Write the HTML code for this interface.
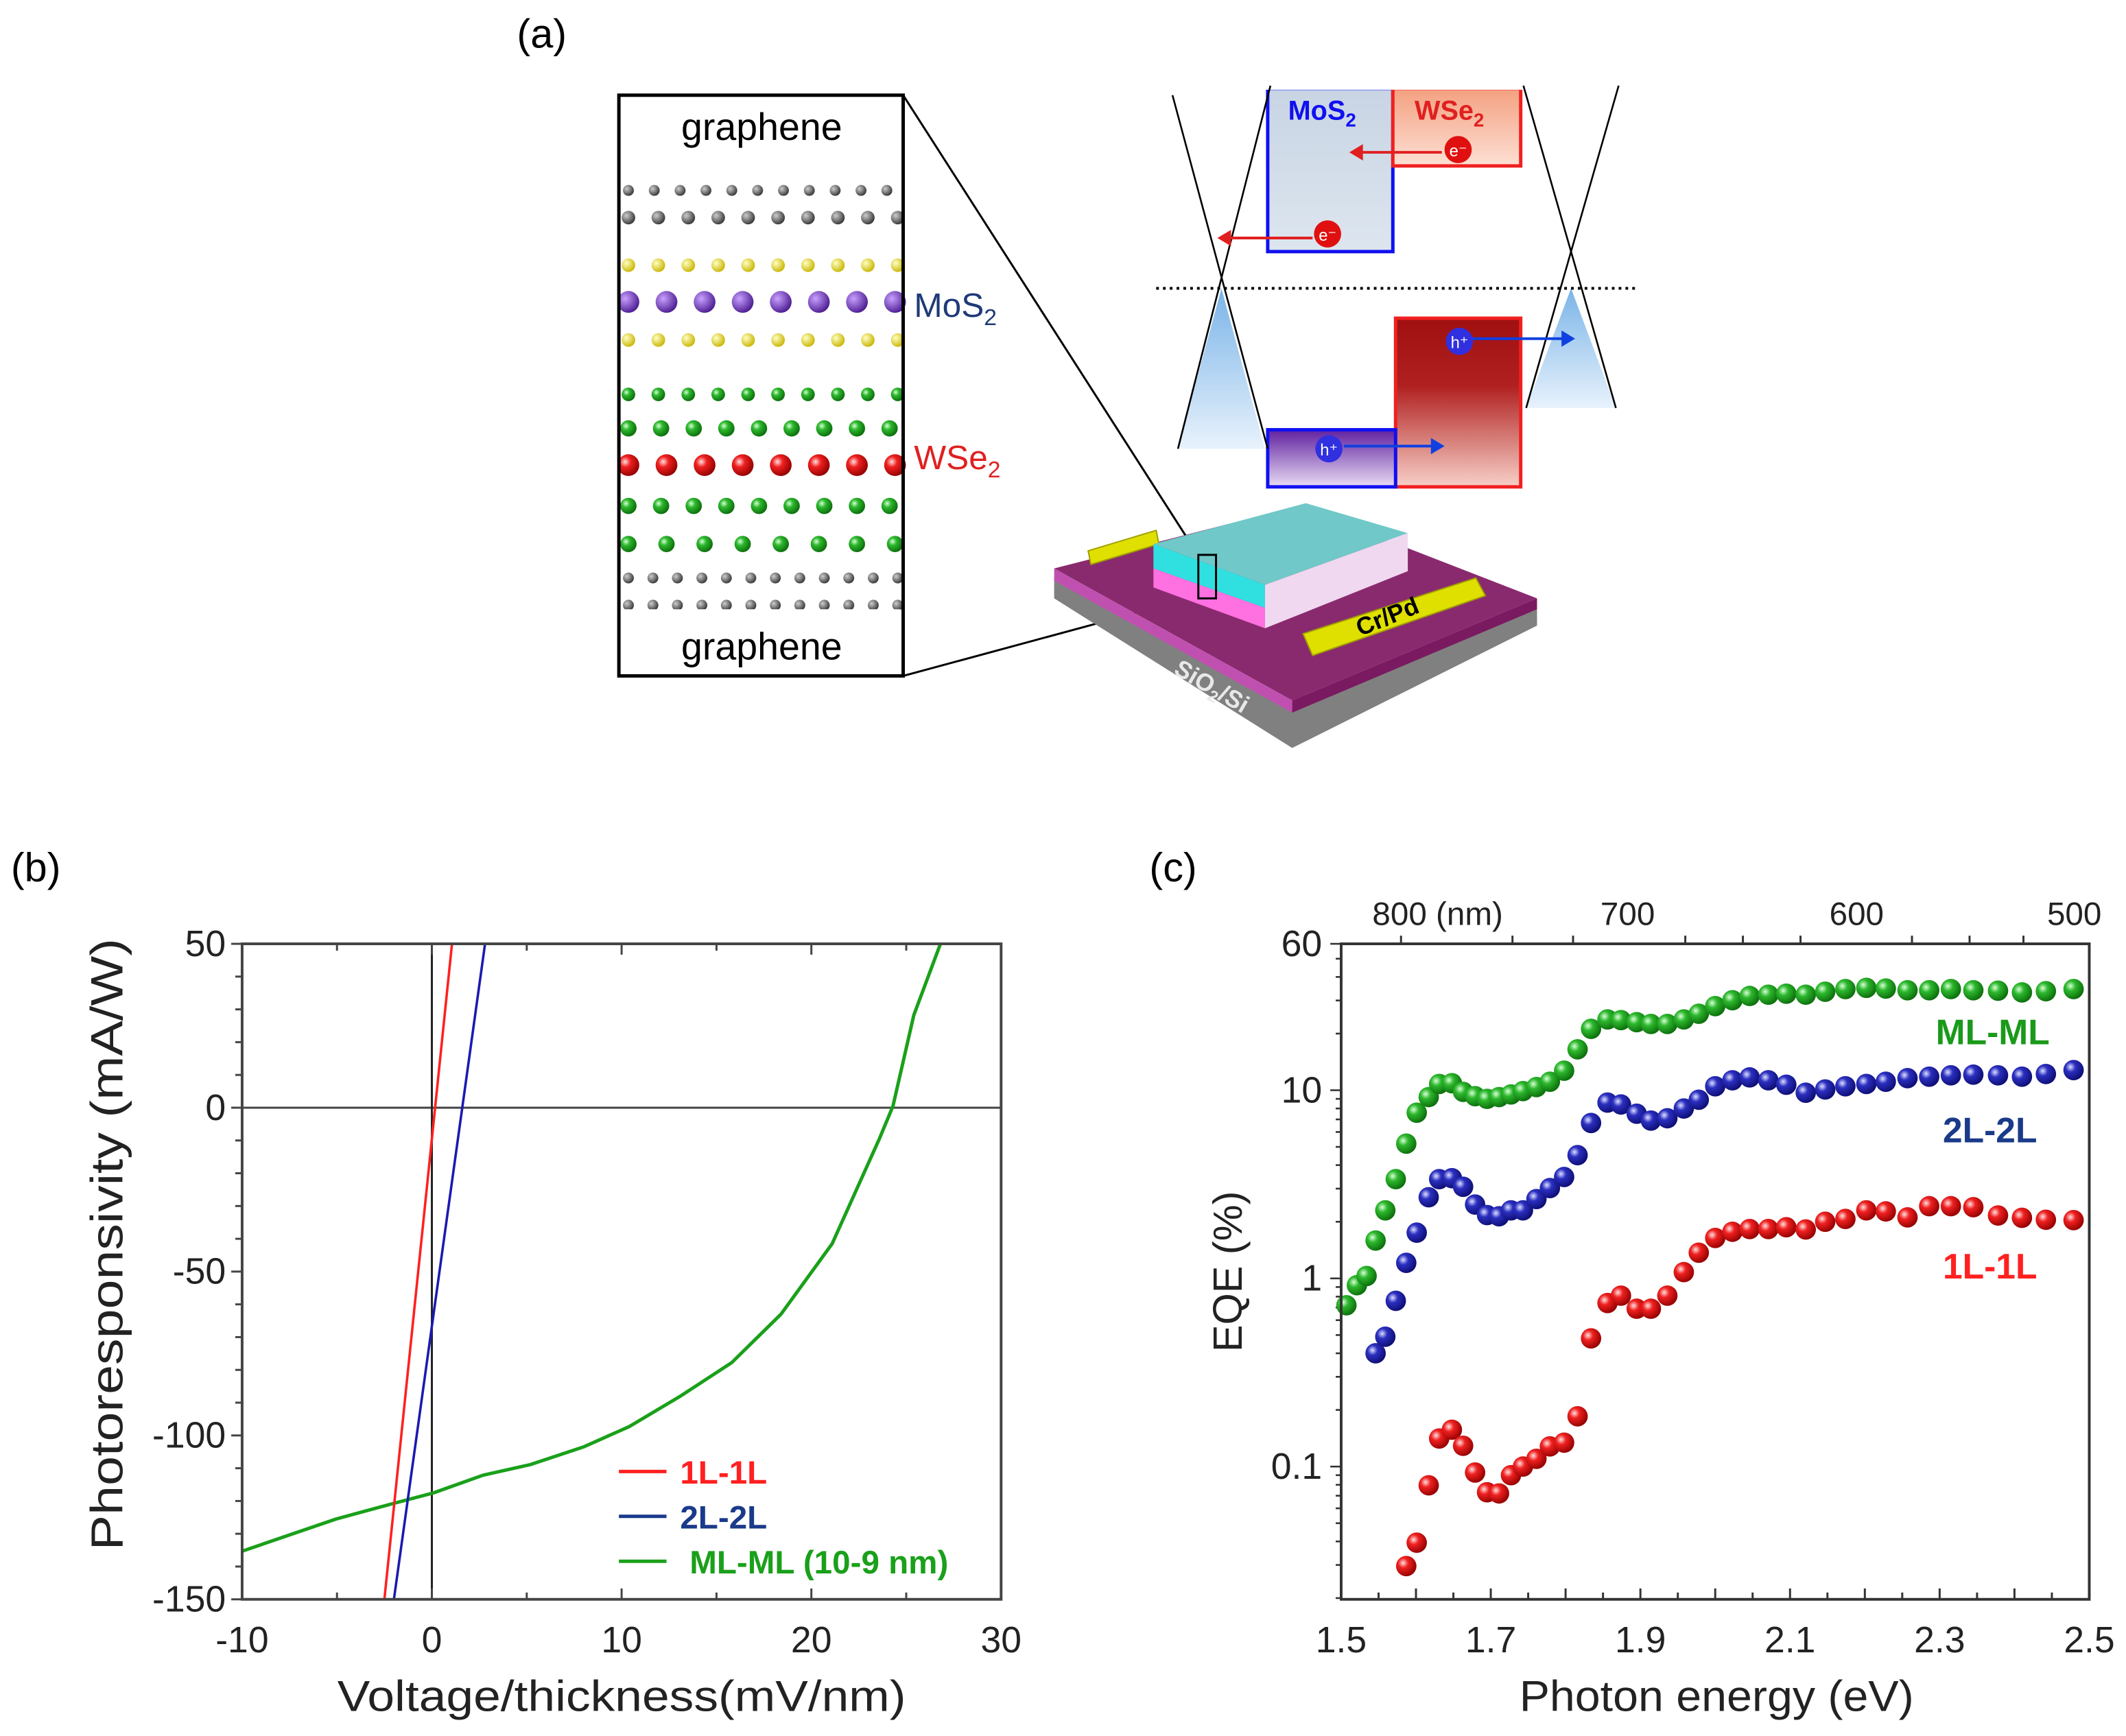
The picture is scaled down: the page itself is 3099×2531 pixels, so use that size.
<!DOCTYPE html>
<html><head><meta charset="utf-8"><style>
html,body{margin:0;padding:0;background:#fff;}
svg{display:block;font-family:"Liberation Sans",sans-serif;}
</style></head><body>
<svg id="fig" xmlns="http://www.w3.org/2000/svg" width="3099" height="2531" viewBox="0 0 1563 1276.5" preserveAspectRatio="none">
<defs>
<radialGradient id="gG" cx="0.35" cy="0.35" r="0.7"><stop offset="0" stop-color="#d8ffd8"/><stop offset="0.35" stop-color="#2db82d"/><stop offset="1" stop-color="#0a6a0a"/></radialGradient>
<radialGradient id="gB" cx="0.35" cy="0.35" r="0.7"><stop offset="0" stop-color="#dde0ff"/><stop offset="0.35" stop-color="#2b2fc0"/><stop offset="1" stop-color="#0c0c70"/></radialGradient>
<radialGradient id="gR" cx="0.35" cy="0.35" r="0.7"><stop offset="0" stop-color="#ffe0e0"/><stop offset="0.35" stop-color="#f02020"/><stop offset="1" stop-color="#900000"/></radialGradient>
<radialGradient id="gK" cx="0.35" cy="0.35" r="0.7"><stop offset="0" stop-color="#ccc"/><stop offset="1" stop-color="#333"/></radialGradient>
<radialGradient id="gY" cx="0.35" cy="0.35" r="0.7"><stop offset="0" stop-color="#ffffc0"/><stop offset="1" stop-color="#c8b400"/></radialGradient>
<radialGradient id="gP" cx="0.35" cy="0.35" r="0.7"><stop offset="0" stop-color="#c9a0ff"/><stop offset="1" stop-color="#4a1a90"/></radialGradient>
<linearGradient id="mosG" x1="0" y1="0" x2="0" y2="1"><stop offset="0" stop-color="#c8d4e4"/><stop offset="1" stop-color="#dde6ef"/></linearGradient>
<linearGradient id="wseG" x1="0" y1="0" x2="0" y2="1"><stop offset="0" stop-color="#f4a080"/><stop offset="1" stop-color="#fde0d4"/></linearGradient>
<linearGradient id="redG" x1="0" y1="0" x2="0" y2="1"><stop offset="0" stop-color="#a01010"/><stop offset="0.4" stop-color="#b02020"/><stop offset="1" stop-color="#f8d0c8"/></linearGradient>
<linearGradient id="purG" x1="0" y1="0" x2="0" y2="1"><stop offset="0" stop-color="#6020a0"/><stop offset="1" stop-color="#e8dcf4"/></linearGradient>
<linearGradient id="coneG" x1="0" y1="0" x2="0" y2="1"><stop offset="0" stop-color="#7ab4e8"/><stop offset="1" stop-color="#e8f2fc"/></linearGradient>
</defs>

<!-- Panel (a) -->
<g>
<text x="380" y="35" font-size="30">(a)</text>
<g id="crystal"></g>
<rect x="455" y="70" width="209" height="427" fill="none" stroke="#000" stroke-width="2.5"/>
<rect x="457" y="72" width="205" height="46" fill="#fff"/>
<rect x="457" y="448" width="205" height="47" fill="#fff"/>
<text x="560" y="103" font-size="28" text-anchor="middle">graphene</text>
<text x="560" y="485" font-size="28" text-anchor="middle">graphene</text>
<text x="672" y="233" font-size="25" fill="#1f3a78">MoS<tspan font-size="17" dy="6">2</tspan></text>
<text x="672" y="345" font-size="25" fill="#e02020">WSe<tspan font-size="17" dy="6">2</tspan></text>
<line x1="664" y1="70" x2="882" y2="410" stroke="#000" stroke-width="1.5"/>
<line x1="664" y1="497" x2="882" y2="438" stroke="#000" stroke-width="1.5"/>

<g>
<polygon points="898,212 866,330 930,330" fill="url(#coneG)"/>
<polygon points="1155,212 1122,300 1188,300" fill="url(#coneG)"/>
<rect x="932" y="65" width="92" height="120" fill="url(#mosG)" stroke="#1010f0" stroke-width="2.5"/>
<rect x="1024" y="65" width="94" height="57" fill="url(#wseG)" stroke="#f02020" stroke-width="2.5"/>
<rect x="1026" y="234" width="92" height="124" fill="url(#redG)" stroke="#f02020" stroke-width="2.5"/>
<rect x="932" y="316" width="94" height="42" fill="url(#purG)" stroke="#1010f0" stroke-width="2.5"/>
<rect x="930" y="58" width="190" height="8" fill="#fff"/>
<line x1="862" y1="70" x2="932" y2="330" stroke="#000" stroke-width="1.3"/>
<line x1="934" y1="63" x2="866" y2="330" stroke="#000" stroke-width="1.3"/>
<line x1="1120" y1="63" x2="1188" y2="300" stroke="#000" stroke-width="1.3"/>
<line x1="1190" y1="63" x2="1122" y2="300" stroke="#000" stroke-width="1.3"/>
<line x1="850" y1="212" x2="1203" y2="212" stroke="#000" stroke-width="2" stroke-dasharray="2,3"/>
<text x="947" y="88" font-size="20" font-weight="bold" fill="#1010f0">MoS<tspan font-size="14" dy="5">2</tspan></text>
<text x="1040" y="88" font-size="20" font-weight="bold" fill="#e02020">WSe<tspan font-size="14" dy="5">2</tspan></text>
<line x1="1060" y1="112" x2="998" y2="112" stroke="#e02020" stroke-width="2"/><polygon points="992,112 1002,106 1002,118" fill="#e02020"/>
<circle cx="1072" cy="110" r="10" fill="#e01010"/><text x="1072" y="115" font-size="12" fill="#fff" text-anchor="middle">e⁻</text>
<line x1="965" y1="175" x2="902" y2="175" stroke="#e02020" stroke-width="2"/><polygon points="895,175 905,169 905,181" fill="#e02020"/>
<circle cx="976" cy="172" r="10" fill="#e01010"/><text x="976" y="177" font-size="12" fill="#fff" text-anchor="middle">e⁻</text>
<line x1="1082" y1="249" x2="1150" y2="249" stroke="#1040e0" stroke-width="2"/><polygon points="1158,249 1148,243 1148,255" fill="#1040e0"/>
<circle cx="1073" cy="251" r="10" fill="#3030e0"/><text x="1073" y="256" font-size="12" fill="#fff" text-anchor="middle">h⁺</text>
<line x1="988" y1="328" x2="1055" y2="328" stroke="#1040e0" stroke-width="2"/><polygon points="1062,328 1052,322 1052,334" fill="#1040e0"/>
<circle cx="977" cy="330" r="10" fill="#3030e0"/><text x="977" y="335" font-size="12" fill="#fff" text-anchor="middle">h⁺</text>
</g>

<g>
<polygon points="775,425 950,520 1130,445 1130,460 950,550 775,440" fill="#808080"/>
<polygon points="775,418 950,515 1130,440 955,372" fill="#8a2a6e"/>
<polygon points="775,418 950,515 950,524 775,427" fill="#c050b0"/>
<polygon points="950,515 1130,440 1130,448 950,524" fill="#7a1a60"/>
<polygon points="800,405 850,390 852,400 802,415" fill="#e0e000" stroke="#a0a000"/>
<polygon points="958,466 1085,425 1092,438 965,482" fill="#e0e000" stroke="#a0a000"/>
<polygon points="848,400 930,430 1035,392 960,370" fill="#70c8c8"/>
<polygon points="848,400 930,430 930,447 848,418" fill="#30e0e0"/>
<polygon points="848,418 930,447 930,462 848,432" fill="#ff70e0"/>
<polygon points="930,430 1035,392 1035,420 930,462" fill="#f0d8f0"/>
<rect x="881" y="408" width="13" height="32" fill="none" stroke="#000" stroke-width="1.5"/>
<text x="1000" y="468" font-size="18" font-weight="bold" transform="rotate(-22 1000 468)">Cr/Pd</text>
<text x="862" y="495" font-size="18" font-weight="bold" fill="#e8e8e8" transform="rotate(30 862 495)">SiO<tspan font-size="12" dy="4">2</tspan><tspan dy="-4">/Si</tspan></text>
</g>
</g>

<!-- Panel (b) -->
<g id="panelB">
<text x="8" y="648" font-size="30">(b)</text>
</g>
<!-- Panel (c) -->
<g id="panelC">
<text x="845" y="648" font-size="30">(c)</text>
</g>
</svg>
<script>
// ---- Panel (b) data ----
const bXTicks = [-10, 0, 10, 20, 30];
const bYTicks = [-150, -100, -50, 0, 50];
const line1LV = [-2.5, 1.06];
const line1LR = [-150, 50];
const line2LV = [-2.0, 2.8];
const line2LR = [-150, 50];
const mlV = [-10, -5.06, -2.0, 0.09, 2.7, 5.2, 8.0, 10.4, 13.1, 15.8, 18.4, 21.1, 23.6, 24.3, 25.4, 26.8];
const mlR = [-135.3, -125.5, -120.7, -117.5, -112.1, -108.9, -103.5, -97.3, -88.0, -77.8, -63.0, -41.5, -9.3, 0.5, 28.2, 50];
const bLegend = ["1L-1L", "2L-2L", "ML-ML (10-9 nm)"];

// ---- Panel (c) data ----
const cXTicks = [1.5, 1.7, 1.9, 2.1, 2.3, 2.5];
const cYTicks = [60, 10, 1, 0.1];
const cYTickLabels = ["60", "10", "1", "0.1"];
const cTopTickLabels = ["800 (nm)", "700", "600", "500"];
const cTopLabelEnergy = [1.629, 1.883, 2.189, 2.48];
const cTopTickEnergy = [1.58, 1.729, 1.81, 1.96, 2.037, 2.114, 2.263, 2.340, 2.412];
const energyML = [1.507,1.521,1.534,1.546,1.559,1.573,1.587,1.601,1.617,1.631,1.648,1.663,1.679,1.695,1.711,1.727,1.743,1.761,1.779,1.798,1.816,1.834,1.856,1.874,1.895,1.914,1.936,1.958,1.978,2.000,2.023,2.046,2.071,2.095,2.121,2.147,2.174,2.202,2.228,2.257,2.286,2.315,2.345,2.378,2.410,2.442,2.479];
const eqeML = [0.72,0.92,1.03,1.59,2.30,3.37,5.2,7.6,9.2,10.8,10.9,9.8,9.3,9.0,9.2,9.5,9.9,10.4,11.1,12.7,16.5,21.2,23.8,23.6,23.0,22.5,22.5,23.8,25.5,28.0,30.1,31.7,32.2,32.6,32.2,33.4,34.5,35.0,34.7,34.0,34.0,34.5,34.0,33.8,33.1,33.6,34.5];
const energy2L = [1.546,1.559,1.573,1.587,1.601,1.617,1.631,1.648,1.663,1.679,1.695,1.711,1.727,1.743,1.761,1.779,1.798,1.816,1.834,1.856,1.874,1.895,1.914,1.936,1.958,1.978,2.000,2.023,2.046,2.071,2.095,2.121,2.147,2.174,2.202,2.228,2.257,2.286,2.315,2.345,2.378,2.410,2.442,2.479];
const eqe2L = [0.40,0.49,0.76,1.21,1.75,2.70,3.37,3.41,3.07,2.47,2.17,2.14,2.30,2.30,2.64,3.02,3.46,4.52,6.7,8.6,8.4,7.5,6.9,7.1,8.0,8.9,10.5,11.3,11.7,11.3,10.7,9.7,10.1,10.5,10.8,11.1,11.6,11.8,12.0,12.1,12.0,11.8,12.2,12.8];
const energy1L = [1.587,1.601,1.617,1.631,1.648,1.663,1.679,1.695,1.711,1.727,1.743,1.761,1.779,1.798,1.816,1.834,1.856,1.874,1.895,1.914,1.936,1.958,1.978,2.000,2.023,2.046,2.071,2.095,2.121,2.147,2.174,2.202,2.228,2.257,2.286,2.315,2.345,2.378,2.410,2.442,2.479];
const eqe1L = [0.0296,0.0394,0.0795,0.141,0.157,0.129,0.093,0.073,0.072,0.090,0.100,0.110,0.128,0.134,0.185,0.48,0.74,0.81,0.69,0.69,0.81,1.08,1.37,1.64,1.77,1.83,1.83,1.87,1.82,2.00,2.07,2.30,2.27,2.11,2.42,2.42,2.39,2.16,2.10,2.05,2.04];

const NS = "http://www.w3.org/2000/svg";
function mk(parent, tag, attrs, text) {
  const el = document.createElementNS(NS, tag);
  for (const k in attrs) el.setAttribute(k, attrs[k]);
  if (text !== undefined) el.textContent = text;
  parent.appendChild(el);
  return el;
}

// crystal decoration
(function(){
  const g = document.getElementById('crystal');
  const rows = [[140,'#gK',4,19],[160,'#gK',5,22],[195,'#gY',5,22],[222,'#gP',8,28],[250,'#gY',5,22],[290,'#gG',5,22],[315,'#gG',6,24],[342,'#gR',8,28],[372,'#gG',6,24],[400,'#gG',6,28],[425,'#gK',4,18],[445,'#gK',4,18]];
  rows.forEach(r=>{
    for (let x=462; x<=660; x+=r[3]) {
      const c = mk(g,'circle',{cx:x,cy:r[0],r:r[2],fill:'url('+r[1]+')'});
      
      
    }
  });
})();

// ---- Panel (b) ----
(function(){
  const g = document.getElementById('panelB');
  const L=178,R=736,T=694,B=1176;
  const xS = v => L + (v - (-10)) / 40 * (R - L);
  const yS = v => B - (v - (-150)) / 200 * (B - T);
  let e;
  e = mk(g,'line',{x1:L,y1:yS(0),x2:R,y2:yS(0),stroke:'#444','stroke-width':1.5});
   
  e = mk(g,'line',{x1:xS(0),y1:T,x2:xS(0),y2:B,stroke:'#222','stroke-width':1.5});
   
  for (let v=-10; v<=30; v+=5) {
    const len = v%10===0?8:5;
    mk(g,'line',{x1:xS(v),y1:B,x2:xS(v),y2:B-len,stroke:'#444','stroke-width':1.5});
    mk(g,'line',{x1:xS(v),y1:T,x2:xS(v),y2:T+len,stroke:'#444','stroke-width':1.5});
  }
  for (let v=-150; v<=50; v+=10) {
    const len = v%50===0?8:5;
    mk(g,'line',{x1:L,y1:yS(v),x2:L-len,y2:yS(v),stroke:'#444','stroke-width':1.5});
  }
  bXTicks.forEach(v=>{
    e = mk(g,'text',{x:xS(v),y:1215,'font-size':27,'text-anchor':'middle',fill:'#222'},String(v));
     
  });
  bYTicks.forEach(v=>{
    e = mk(g,'text',{x:166,y:yS(v)+9,'font-size':27,'text-anchor':'end',fill:'#222'},String(v));
     
  });
  e = mk(g,'text',{x:248,y:1258,'font-size':32,textLength:418,lengthAdjust:'spacingAndGlyphs',fill:'#222'},'Voltage/thickness(mV/nm)');
   
  e = mk(g,'text',{x:-225,y:0,'font-size':33,textLength:450,lengthAdjust:'spacingAndGlyphs',fill:'#222',transform:'translate(90,915) rotate(-90)'},'Photoresponsivity  (mA/W)');
   
  const pts = (xs,ys)=>xs.map((v,i)=>xS(v).toFixed(1)+','+yS(ys[i]).toFixed(1)).join(' ');
  e = mk(g,'polyline',{points:pts(mlV,mlR),fill:'none',stroke:'#1aa01a','stroke-width':2.5});
   
  e = mk(g,'polyline',{points:pts(line2LV,line2LR),fill:'none',stroke:'#1a1ab0','stroke-width':1.8});
   
  e = mk(g,'polyline',{points:pts(line1LV,line1LR),fill:'none',stroke:'#ff2020','stroke-width':1.8});
   
  e = mk(g,'rect',{x:L,y:T,width:R-L,height:B-T,fill:'none',stroke:'#444','stroke-width':2});
   
  const cols=['#ff2020','#1a3a8a','#1aa01a'];
  bLegend.forEach((t,i)=>{
    const y=1082+i*33;
    e = mk(g,'line',{x1:455,y1:y,x2:490,y2:y,stroke:cols[i],'stroke-width':2.5});
     
    e = mk(g,'text',{x:i==2?507:500,y:y+9,'font-size':24,'font-weight':'bold',fill:cols[i]},t);
     
  });
})();

// ---- Panel (c) ----
(function(){
  const g = document.getElementById('panelC');
  const L=986,R=1536,T=694,B=1176;
  const yMin=Math.log10(0.0197), yMax=Math.log10(60);
  const xS = v => L + (v - 1.5) / 1.0 * (R - L);
  const yS = v => B - (Math.log10(v) - yMin) / (yMax - yMin) * (B - T);
  let e;
  for (let v=1.5; v<=2.501; v+=0.05) {
    const major = Math.abs((v-1.5)/0.1 - Math.round((v-1.5)/0.1))<0.01;
    mk(g,'line',{x1:xS(v),y1:B,x2:xS(v),y2:B-(major?8:5),stroke:'#333','stroke-width':1.5});
  }
  cTopTickEnergy.forEach(E=>{
    mk(g,'line',{x1:xS(E),y1:T,x2:xS(E),y2:T-6,stroke:'#333','stroke-width':1.5});
  });
  [0.02,0.03,0.04,0.05,0.06,0.07,0.08,0.09,0.1,0.2,0.3,0.4,0.5,0.6,0.7,0.8,0.9,1,2,3,4,5,6,7,8,9,10,20,30,40,50,60].forEach(v=>{
    const major=[0.1,1,10,60].includes(v);
    mk(g,'line',{x1:L,y1:yS(v),x2:L-(major?8:4),y2:yS(v),stroke:'#333','stroke-width':1.3});
  });
  cXTicks.forEach(v=>{
    e = mk(g,'text',{x:xS(v),y:1215,'font-size':27,'text-anchor':'middle',fill:'#222'},v.toFixed(1));
     
  });
  cYTicks.forEach((v,i)=>{
    e = mk(g,'text',{x:972,y:yS(v)+9,'font-size':27,'text-anchor':'end',fill:'#222'},cYTickLabels[i]);
     
  });
  cTopTickLabels.forEach((t,i)=>{
    e = mk(g,'text',{x:xS(cTopLabelEnergy[i]),y:680,'font-size':24,'text-anchor':'middle',fill:'#222'},t);
     
  });
  e = mk(g,'text',{x:1117,y:1258,'font-size':32,textLength:290,lengthAdjust:'spacingAndGlyphs',fill:'#222'},'Photon energy (eV)');
   
  e = mk(g,'text',{x:0,y:0,'font-size':30,'text-anchor':'middle',fill:'#222',transform:'translate(913,935) rotate(-90)'},'EQE   (%)');
   
  function series(xs, ys, grad, name){
    xs.forEach((v,i)=>{
      const c = mk(g,'circle',{cx:xS(v),cy:yS(ys[i]),r:7.5,fill:'url(#'+grad+')'});
      
      
    });
  }
  series(energyML, eqeML, 'gG', 'ml-ml-point');
  series(energy2L, eqe2L, 'gB', '2l-2l-point');
  series(energy1L, eqe1L, 'gR', '1l-1l-point');
  e = mk(g,'rect',{x:L,y:T,width:R-L,height:B-T,fill:'none',stroke:'#333','stroke-width':2});
   
  e = mk(g,'text',{x:1465,y:768,'font-size':26,'font-weight':'bold','text-anchor':'middle',fill:'#1a9a1a'},'ML-ML');
   
  e = mk(g,'text',{x:1463,y:840,'font-size':26,'font-weight':'bold','text-anchor':'middle',fill:'#1a3a8a'},'2L-2L');
   
  e = mk(g,'text',{x:1463,y:940,'font-size':26,'font-weight':'bold','text-anchor':'middle',fill:'#ff2020'},'1L-1L');
   
})();
</script>
</body></html>
